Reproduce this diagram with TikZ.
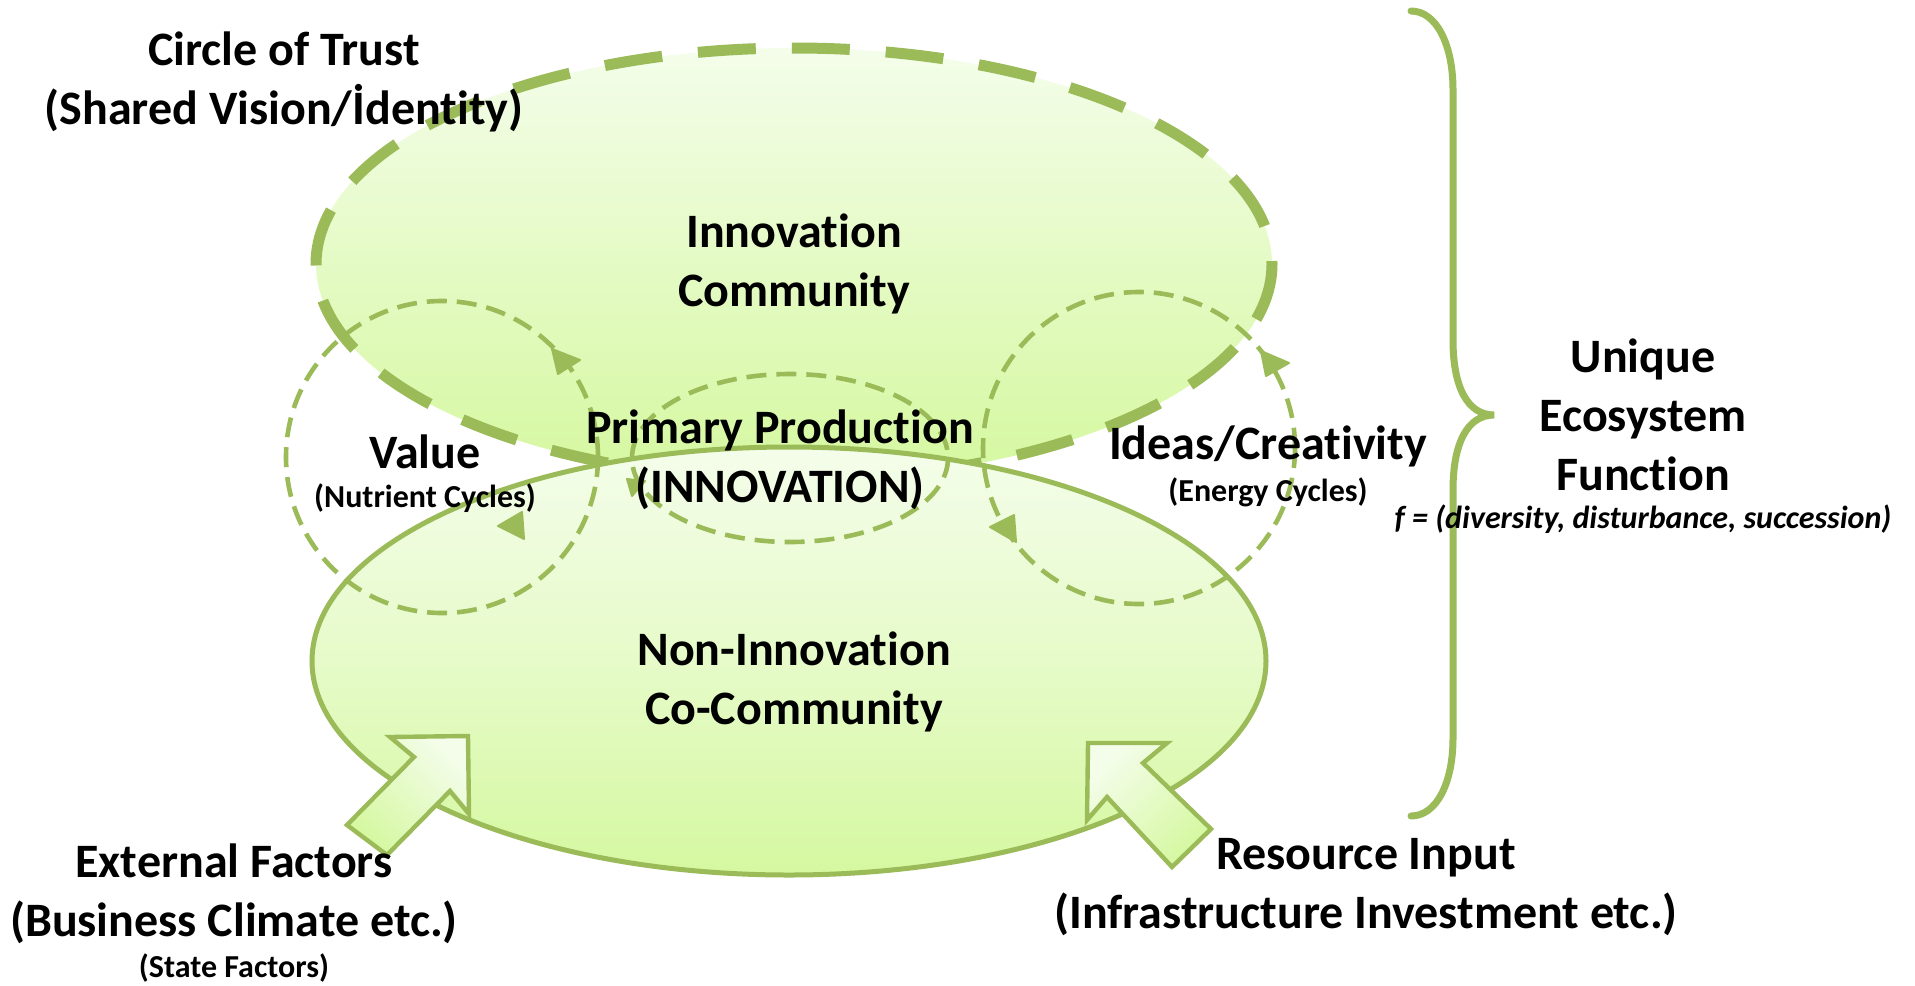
\documentclass[tikz,border=0pt]{standalone}
\usepackage{fontspec}
\setmainfont{Carlito}[Ligatures={NoCommon}]
\definecolor{ogreen}{HTML}{9BBB59}
\definecolor{lighttop}{HTML}{F4FDEA}
\definecolor{greenbot}{HTML}{D5F8A0}
\newcommand\txtbig{\fontsize{24}{29.5}\selectfont\bfseries}
\newcommand\txtsmall{\fontsize{16}{19}\selectfont\bfseries}
\begin{document}
\begin{tikzpicture}[x=0.5pt,y=-0.5pt,
  lbl/.style={text=black,align=center,inner sep=0pt,font=\txtbig},
  slbl/.style={text=black,align=center,inner sep=0pt,font=\txtsmall},
  thickdash/.style={draw=ogreen,line width=5.5pt,dash pattern=on 29pt off 18pt},
  thindash/.style={draw=ogreen,line width=2.3pt,dash pattern=on 10pt off 5pt},
  tip/.style={fill=ogreen,draw=ogreen,line width=1pt,line join=round},
  blockarrow/.style={draw=ogreen,line width=2.2pt,line join=miter,top color=lighttop,bottom color=greenbot}
]
\useasboundingbox (0,0) rectangle (1915,985);
\fill[white] (0,0) rectangle (1915,985);

% Innovation community (top ellipse)
\coordinate (topc) at (794,264);
\shade[top color=lighttop,bottom color=greenbot] (topc) ellipse [x radius=478,y radius=216];
\draw[thickdash] (topc) ellipse [x radius=478,y radius=216];

% Non-innovation co-community (lower ellipse)
\coordinate (lowc) at (789,661);
\shade[top color=lighttop,bottom color=greenbot,middle color=lighttop!55!greenbot] (lowc) ellipse [x radius=477,y radius=214];
\draw[draw=ogreen,line width=2.5pt] (lowc) ellipse [x radius=477,y radius=214];

% cycles
\coordinate (valc) at (442,457);
\coordinate (ideac) at (1139,448);
\coordinate (primc) at (790,458);
\draw[thindash] (valc) circle [radius=156];
\draw[thindash] (ideac) circle [radius=156];
\draw[thindash] (primc) ellipse [x radius=158,y radius=84];

% arrowheads on cycles
\filldraw[tip] (552,349) -- (580,360) -- (558,374) -- cycle;
\filldraw[tip] (498,526) -- (522,512) -- (524,539) -- cycle;
\filldraw[tip] (1261,351) -- (1289,363) -- (1266,376) -- cycle;
\filldraw[tip] (990,527) -- (1014,515) -- (1016,542) -- cycle;
\filldraw[tip] (627,479) -- (645,481) -- (632,496) -- cycle;

% block arrows
\path[blockarrow,shading angle=-45] (390,737) -- (468,736) -- (469,814) -- (450,791) -- (387,855) -- (347,825) -- (414,757) -- cycle;
\path[blockarrow,shading angle=45] (1088,743) -- (1167,743) -- (1143,763) -- (1211,829) -- (1172,867) -- (1107,797) -- (1087,820) -- cycle;

% brace
\draw[draw=ogreen,line width=3.5pt,line cap=round]
  (1411,11) .. controls (1436,11) and (1453,44) .. (1453,90)
  -- (1453,340)
  .. controls (1453,388) and (1468,415) .. (1494,415)
  .. controls (1468,415) and (1453,442) .. (1453,490)
  -- (1453,738)
  .. controls (1453,784) and (1436,816) .. (1411,816);

% texts
\node[lbl] (trust) at (284,82) {Circle of Trust\\(Shared Vision/İdentity)};
\node[lbl] (innov) at (794,264) {Innovation\\Community};
\node[lbl] (prim) at (780,460) {Primary Production\\(INNOVATION)};
\node[lbl] (value) at (425,452) {Value};
\node[slbl] (nutr) at (425,498) {(Nutrient Cycles)};
\node[lbl] (ideas) at (1268,446) {Ideas/Creativity};
\node[slbl] (energy) at (1268,492) {(Energy Cycles)};
\node[lbl] (unique) at (1643,415) {Unique\\Ecosystem\\Function};
\node[slbl,font=\fontsize{16}{19}\selectfont\bfseries\itshape] (func) at (1643,519) {f = (diversity, disturbance, succession)};
\node[lbl] (noninno) at (794,682) {Non-Innovation\\Co-Community};
\node[lbl] (ext) at (234,894) {External Factors\\(Business Climate etc.)};
\node[slbl] (state) at (234,968) {(State Factors)};
\node[lbl] (res) at (1366,887) {Resource Input\\(Infrastructure Investment etc.)};
\end{tikzpicture}
\end{document}
